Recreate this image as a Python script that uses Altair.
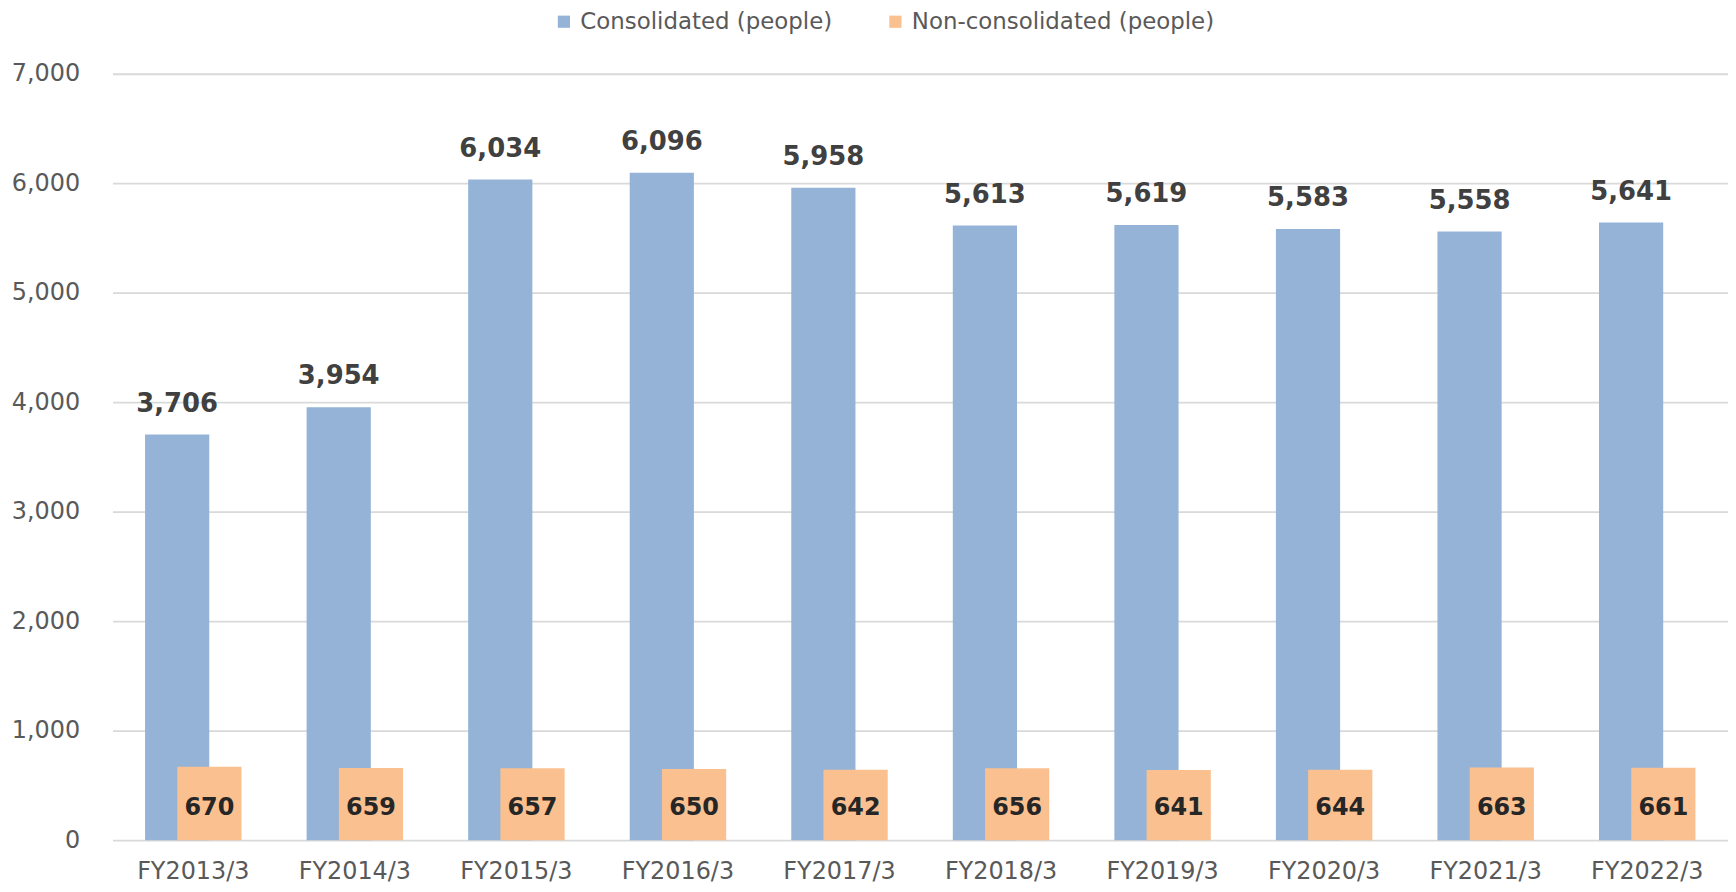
import altair as alt
import pandas as pd

categories = ["FY2013/3", "FY2014/3", "FY2015/3", "FY2016/3", "FY2017/3",
              "FY2018/3", "FY2019/3", "FY2020/3", "FY2021/3", "FY2022/3"]
consolidated = [3706, 3954, 6034, 6096, 5958, 5613, 5619, 5583, 5558, 5641]
non_consolidated = [670, 659, 657, 650, 642, 656, 641, 644, 663, 661]
series_names = ["Consolidated (people)", "Non-consolidated (people)"]
series_colors = ["#95B3D7", "#FAC090"]
y_ticks = [0, 1000, 2000, 3000, 4000, 5000, 6000, 7000]

rows = []
for c, v in zip(categories, consolidated):
    rows.append({"category": c, "series": series_names[0], "value": v})
for c, v in zip(categories, non_consolidated):
    rows.append({"category": c, "series": series_names[1], "value": v})
df = pd.DataFrame(rows)

FONT = "DejaVu Sans"
OFF = 16.2
BAR = 64.5

x_enc = alt.X(
    "category:N", sort=categories, title=None,
    scale=alt.Scale(paddingInner=0, paddingOuter=0),
    axis=alt.Axis(labelAngle=0, domain=False, ticks=False, tickSize=0,
                  labelFontSize=24, labelFont=FONT, labelColor="#595959",
                  labelPadding=20, grid=False),
)
y_scale = alt.Scale(domain=[0, 7000], nice=False, zero=True)
y_axis = alt.Axis(values=y_ticks, format=",.0f", domain=False, ticks=False, tickSize=0,
                  labelFontSize=24, labelFont=FONT, labelColor="#595959",
                  labelPadding=33, gridColor="#D9D9D9", gridWidth=1.8)
y_enc = alt.Y("value:Q", title=None, scale=y_scale, axis=y_axis)
color_enc = alt.Color(
    "series:N", title=None,
    scale=alt.Scale(domain=series_names, range=series_colors),
    legend=alt.Legend(orient="none", legendX=442, legendY=-64, direction="horizontal",
                      symbolType="square", symbolSize=150, symbolStrokeWidth=0,
                      labelFontSize=23, labelFont=FONT, labelColor="#595959",
                      labelLimit=0, labelOffset=5, columnPadding=51, padding=0),
)

base = alt.Chart(df)

blue = base.transform_filter(alt.datum.series == series_names[0]).mark_bar(
    size=BAR, xOffset=-OFF).encode(x=x_enc, y=y_enc, color=color_enc)
orange = base.transform_filter(alt.datum.series == series_names[1]).mark_bar(
    size=BAR, xOffset=OFF).encode(x=x_enc, y=y_enc, color=color_enc)

blue_text = base.transform_filter(alt.datum.series == series_names[0]).mark_text(
    xOffset=-OFF, dy=-23, baseline="alphabetic", align="center",
    fontSize=26, fontWeight="bold", font=FONT, color="#404040"
).encode(x=x_enc, y=y_enc, text=alt.Text("value:Q", format=","))

orange_text = base.transform_filter(alt.datum.series == series_names[1]).mark_text(
    xOffset=OFF, dy=-25, baseline="alphabetic", align="center",
    fontSize=24, fontWeight="bold", font=FONT, color="#262626"
).encode(x=x_enc, y=alt.Y(datum=0, title=None, scale=y_scale, axis=y_axis),
         text=alt.Text("value:Q", format=","))

chart = alt.layer(blue, orange, blue_text, orange_text).properties(
    width=1623, height=770,
    background="white",
    autosize=alt.AutoSizeParams(type="none"),
    padding={"left": 105, "top": 64, "right": 0, "bottom": 42},
).configure_view(stroke=None)

chart.save("out.html", embed_options={"renderer": "svg", "actions": False})
